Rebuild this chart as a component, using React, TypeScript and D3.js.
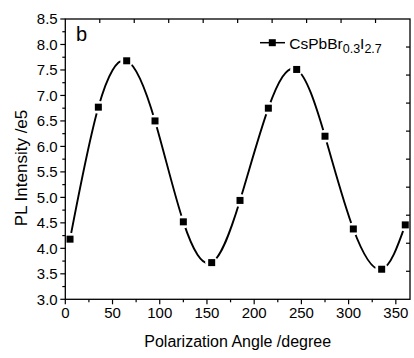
import React from "react";
import * as d3 from "d3";

const angles = [5, 35, 65, 95, 125, 155, 185, 215, 245, 275, 305, 335, 360];
const intensity = [4.18, 6.77, 7.68, 6.5, 4.52, 3.72, 4.94, 6.75, 7.51, 6.2, 4.38, 3.59, 4.46];
const xTickValues = [0, 50, 100, 150, 200, 250, 300, 350];
const xMinorValues = [25, 75, 125, 175, 225, 275, 325];
const yTickValues = [3.0, 3.5, 4.0, 4.5, 5.0, 5.5, 6.0, 6.5, 7.0, 7.5, 8.0, 8.5];
const yMinorValues = [3.25, 3.75, 4.25, 4.75, 5.25, 5.75, 6.25, 6.75, 7.25, 7.75, 8.25];
const xTitle = "Polarization Angle /degree";
const yTitle = "PL Intensity /e5";
const panelLabel = "b";

const W = 414;
const H = 358;
const L = 65.3, R = 410, T = 19, B = 299.3;
const FONT = "'Liberation Sans', Arial, sans-serif";

export default function App() {
  const x = d3.scaleLinear().domain([0, 365]).range([L, R]);
  const y = d3.scaleLinear().domain([3.0, 8.5]).range([B, T]);
  const pts: [number, number][] = angles.map((a, i) => [x(a), y(intensity[i])]);
  const line = d3.line().curve(d3.curveNatural)(pts) || "";
  const topTicks = d3.range(1, 10).map((k) => L + ((R - L) * k) / 10);
  const rightTicks = d3.range(1, 10).map((k) => T + ((B - T) * k) / 10);
  const ms = 7;
  const legY = 42.7;

  return (
    <svg width={W} height={H} style={{ position: "absolute", left: 0, top: 0, background: "#fff" }} fontFamily={FONT}>
      <rect x={0} y={0} width={W} height={H} fill="#fff" />
      <path d={line} fill="none" stroke="#000" strokeWidth={1.9} />
      {pts.map((p, i) => (
        <circle key={"g" + i} cx={p[0]} cy={p[1]} r={6.5} fill="#fff" />
      ))}
      {pts.map((p, i) => (
        <rect key={"m" + i} x={p[0] - ms / 2} y={p[1] - ms / 2} width={ms} height={ms} fill="#000" />
      ))}
      {/* frame */}
      <rect x={L} y={T} width={R - L} height={B - T} fill="none" stroke="#000" strokeWidth={1.3} />
      {/* bottom ticks */}
      {xTickValues.map((v) => (
        <g key={"xt" + v}>
          <line x1={x(v)} x2={x(v)} y1={B} y2={B + 5} stroke="#000" strokeWidth={1.2} />
          <text x={x(v)} y={318.3} fontSize={15} textAnchor="middle" fill="#000">{v}</text>
        </g>
      ))}
      {xMinorValues.map((v) => (
        <line key={"xm" + v} x1={x(v)} x2={x(v)} y1={B} y2={B + 3} stroke="#000" strokeWidth={1.2} />
      ))}
      {/* left ticks */}
      {yTickValues.map((v) => (
        <g key={"yt" + v}>
          <line x1={L - 5} x2={L} y1={y(v)} y2={y(v)} stroke="#000" strokeWidth={1.2} />
          <text x={57.7} y={y(v) + 5.3} fontSize={15} textAnchor="end" fill="#000">{v.toFixed(1)}</text>
        </g>
      ))}
      {yMinorValues.map((v) => (
        <line key={"ym" + v} x1={L - 3} x2={L} y1={y(v)} y2={y(v)} stroke="#000" strokeWidth={1.2} />
      ))}
      {/* top & right ticks (inward) */}
      {topTicks.map((tx, i) => (
        <line key={"tt" + i} x1={tx} x2={tx} y1={T} y2={T + 4} stroke="#000" strokeWidth={1.2} />
      ))}
      {rightTicks.map((ty, i) => (
        <line key={"rt" + i} x1={R - 4} x2={R} y1={ty} y2={ty} stroke="#000" strokeWidth={1.2} />
      ))}
      {/* titles */}
      <text x={(L + R) / 2} y={346.7} fontSize={16} textAnchor="middle" fill="#000">{xTitle}</text>
      <text transform={`translate(26.7,168) rotate(-90)`} fontSize={17} textAnchor="middle" fill="#000">{yTitle}</text>
      <text x={76} y={40.7} fontSize={20} fill="#000">{panelLabel}</text>
      {/* legend */}
      <line x1={260} x2={285} y1={legY} y2={legY} stroke="#000" strokeWidth={1.5} />
      <rect x={272.3 - ms / 2} y={legY - ms / 2} width={ms} height={ms} fill="#000" />
      <text x={289.3} y={49} fontSize={15.5} fill="#000">
        CsPbBr
        <tspan fontSize={12.5} dy={4}>0.3</tspan>
        <tspan fontSize={15.5} dy={-4}>I</tspan>
        <tspan fontSize={12.5} dy={4}>2.7</tspan>
      </text>
    </svg>
  );
}
